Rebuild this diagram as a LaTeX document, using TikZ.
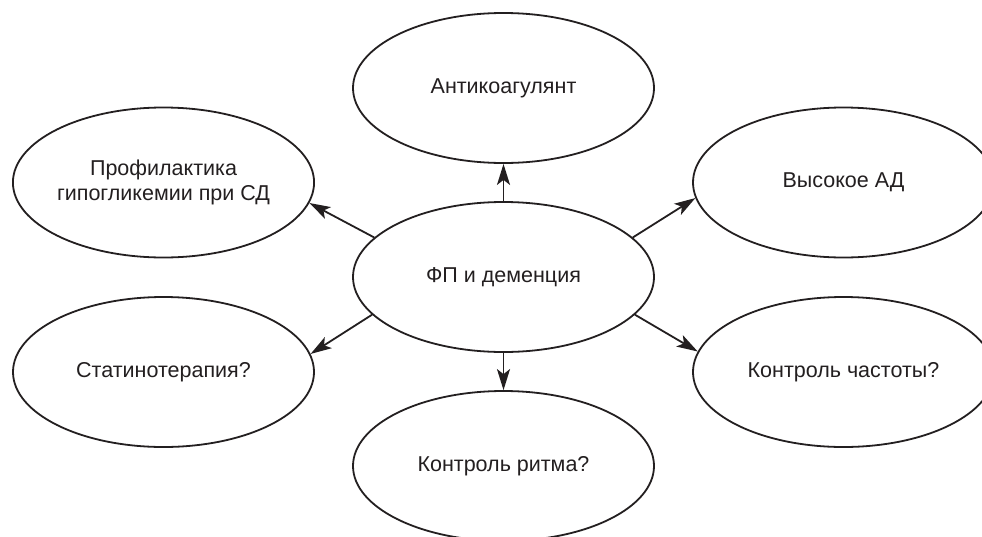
\documentclass[tikz,border=0pt]{standalone}
\usepackage{fontspec}
\setmainfont{Liberation Sans}
\usetikzlibrary{shapes.geometric,arrows.meta}
\definecolor{ink}{HTML}{231F20}
\tikzset{
  bubble/.style={draw=ink, line width=1.8pt, ellipse, minimum width=301pt, minimum height=150pt,
    inner sep=0pt, align=center, text=ink, font=\fontsize{21.5}{25}\selectfont},
  link/.style={draw=ink, line width=1.8pt, -{Stealth[length=21pt,width=13pt,inset=5pt]}}
}
\begin{document}
\begin{tikzpicture}[x=1pt,y=-1pt]
\clip (0,0) rectangle (982,536);
\fill[white] (0,0) rectangle (982,536);
\node[bubble] (c) at (503.5,277) {ФП и деменция};
\node[bubble] (t) at (503.5,88) {Антикоагулянт};
\node[bubble] (tl) at (163.5,182.5) {Профилактика\\гипогликемии при СД};
\node[bubble] (r) at (843.5,182.5) {Высокое АД};
\node[bubble] (bl) at (163.5,372) {Статинотерапия?};
\node[bubble] (br) at (843.5,372) {Контроль частоты?};
\node[bubble] (b) at (503.5,466) {Контроль ритма?};
\draw[link] (c.north) -- (t.south);
\draw[link] (c.south) -- (b.north);
\draw[link] (c.163.5) -- (tl.-8.1);
\draw[link] (c.17.3) -- (r.186.8);
\draw[link] (c.196.1) -- (bl.7.8);
\draw[link] (c.-16.4) -- (br.172.2);
\end{tikzpicture}
\end{document}
